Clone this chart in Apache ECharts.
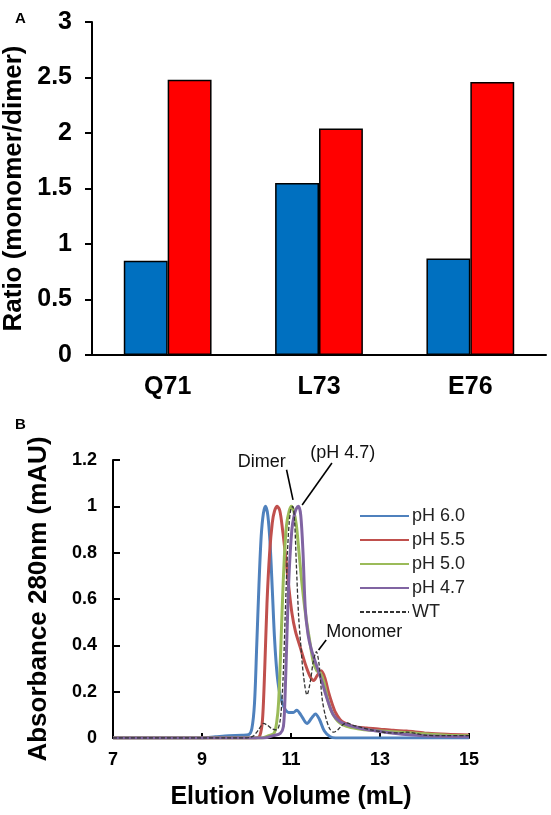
<!DOCTYPE html>
<html>
<head>
<meta charset="utf-8">
<script src="https://cdn.jsdelivr.net/npm/echarts@6/dist/echarts.min.js"></script>
<style>
html,body{margin:0;padding:0;background:#fff;}
#chart{width:551px;height:815px;}
</style>
</head>
<body>
<div id="chart"></div>
<script>
// ---------- Panel A data ----------
var mutants = ['Q71', 'L73', 'E76'];
var blueRatios = [0.85, 1.55, 0.87];
var redRatios = [2.48, 2.04, 2.46];
var ratioTicks = {min: 0, max: 3, interval: 0.5};

// ---------- Panel B data ----------
var ph60X = [7, 9.0, 9.3, 9.6, 9.9, 10.05, 10.12, 10.18, 10.23, 10.28, 10.33, 10.38, 10.43, 10.48, 10.53, 10.58, 10.63, 10.69, 10.76, 10.85, 10.95, 11.05, 11.13, 11.22, 11.36, 11.46, 11.55, 11.64, 11.75, 11.88, 12.0, 13, 14, 15];
var ph60Y = [0, 0, 0.005, 0.01, 0.012, 0.015, 0.04, 0.15, 0.4, 0.66, 0.87, 0.97, 1.0, 0.96, 0.84, 0.64, 0.43, 0.27, 0.18, 0.13, 0.11, 0.11, 0.12, 0.1, 0.063, 0.085, 0.104, 0.08, 0.03, 0.005, 0, 0, 0, 0];

var ph55X = [7, 10.2, 10.3, 10.36, 10.41, 10.46, 10.52, 10.58, 10.63, 10.69, 10.75, 10.81, 10.87, 10.94, 11.02, 11.1, 11.21, 11.32, 11.43, 11.51, 11.59, 11.68, 11.76, 11.84, 11.92, 12.0, 12.1, 12.2, 12.4, 12.7, 13.0, 13.3, 13.6, 14.0, 14.5, 15];
var ph55Y = [0, 0, 0.01, 0.08, 0.3, 0.58, 0.8, 0.93, 0.98, 1.0, 0.98, 0.9, 0.8, 0.67, 0.54, 0.46, 0.39, 0.32, 0.265, 0.248, 0.27, 0.29, 0.26, 0.2, 0.15, 0.11, 0.08, 0.065, 0.05, 0.043, 0.038, 0.033, 0.03, 0.022, 0.016, 0.013];

var ph50X = [7, 10.35, 10.5, 10.62, 10.68, 10.72, 10.76, 10.8, 10.85, 10.9, 10.96, 11.01, 11.06, 11.12, 11.18, 11.25, 11.33, 11.42, 11.5, 11.58, 11.66, 11.74, 11.82, 11.9, 12.0, 12.1, 12.25, 12.5, 12.8, 13.2, 13.6, 14.0, 14.5, 15];
var ph50Y = [0, 0, 0.01, 0.02, 0.07, 0.15, 0.33, 0.55, 0.78, 0.92, 0.98, 1.0, 0.98, 0.92, 0.8, 0.66, 0.53, 0.42, 0.33, 0.29, 0.28, 0.24, 0.17, 0.12, 0.085, 0.065, 0.05, 0.04, 0.033, 0.028, 0.024, 0.018, 0.012, 0.01];

var ph47X = [7, 10.4, 10.6, 10.76, 10.83, 10.87, 10.91, 10.96, 11.02, 11.07, 11.12, 11.17, 11.22, 11.27, 11.32, 11.38, 11.45, 11.57, 11.7, 11.81, 11.95, 12.1, 12.26, 12.6, 13.0, 13.5, 14.0, 15];
var ph47Y = [0, 0, 0.01, 0.02, 0.05, 0.2, 0.45, 0.72, 0.9, 0.96, 0.99, 1.0, 0.96, 0.8, 0.56, 0.45, 0.387, 0.315, 0.24, 0.17, 0.1, 0.07, 0.057, 0.04, 0.028, 0.016, 0.01, 0.005];

var wtX = [7, 10.0, 10.15, 10.25, 10.32, 10.38, 10.47, 10.57, 10.68, 10.76, 10.82, 10.87, 10.92, 10.96, 11.0, 11.04, 11.08, 11.12, 11.17, 11.22, 11.28, 11.36, 11.44, 11.5, 11.57, 11.63, 11.7, 11.78, 11.87, 11.96, 12.05, 12.15, 12.25, 12.4, 12.6, 12.8, 13.0, 13.2, 13.4, 13.6, 13.8, 14.0, 14.5, 15];
var wtY = [0, 0, 0.008, 0.03, 0.05, 0.063, 0.055, 0.04, 0.035, 0.08, 0.25, 0.53, 0.8, 0.93, 0.99, 1.0, 0.94, 0.75, 0.53, 0.4, 0.27, 0.186, 0.25, 0.33, 0.373, 0.32, 0.17, 0.09, 0.04, 0.025, 0.035, 0.055, 0.065, 0.055, 0.045, 0.035, 0.028, 0.022, 0.022, 0.025, 0.02, 0.012, 0.01, 0.01];

var seriesNames = ['pH 6.0', 'pH 5.5', 'pH 5.0', 'pH 4.7', 'WT'];
var absTicks = {min: 0, max: 1.2, interval: 0.2};
var volTicks = {min: 7, max: 15, interval: 2};

// annotation anchors (data coordinates)
var dimerLine = [[10.90, 1.158], [11.045, 1.028]];
var ph47Line = [[11.92, 1.187], [11.25, 1.006]];
var monomerLine = [[11.79, 0.423], [11.62, 0.38]];
var dimerLabelAt = [10.88, 1.192];
var ph47LabelAt = [11.43, 1.19];
var monomerLabelAt = [11.79, 0.458];

function zip(xs, ys) { return xs.map(function (x, i) { return [x, ys[i]]; }); }

var FONT = '"Liberation Sans", Arial, sans-serif';
var chart = echarts.init(document.getElementById('chart'), null, {renderer: 'canvas'});

var lineColors = ['#4F81BD', '#C0504D', '#9BBB59', '#8064A2'];
var lineData = [zip(ph60X, ph60Y), zip(ph55X, ph55Y), zip(ph50X, ph50Y), zip(ph47X, ph47Y)];

var series = [
  {
    type: 'bar', name: 'blue', xAxisIndex: 0, yAxisIndex: 0,
    data: blueRatios, barGap: '0%', barCategoryGap: '42%',
    itemStyle: {color: '#0070C0', borderColor: '#000', borderWidth: 1.5}
  },
  {
    type: 'bar', name: 'red', xAxisIndex: 0, yAxisIndex: 0,
    data: redRatios, barGap: '0%', barCategoryGap: '42%',
    itemStyle: {color: '#FF0000', borderColor: '#000', borderWidth: 1.5}
  }
];
for (var i = 0; i < 4; i++) {
  series.push({
    type: 'line', name: seriesNames[i], xAxisIndex: 1, yAxisIndex: 1,
    data: lineData[i], smooth: 0.3, symbol: 'none', showSymbol: false,
    lineStyle: {color: lineColors[i], width: 3}, itemStyle: {color: lineColors[i]},
    z: 3
  });
}
series.push({
  type: 'line', name: 'WT', xAxisIndex: 1, yAxisIndex: 1,
  data: zip(wtX, wtY), smooth: 0.3, symbol: 'none', showSymbol: false,
  lineStyle: {color: '#333', width: 1.3, type: [4, 2]}, itemStyle: {color: '#333'},
  z: 4,
  markLine: {
    silent: true, symbol: ['none', 'none'], animation: false,
    lineStyle: {color: '#000', width: 1.6, type: 'solid'},
    label: {show: false},
    data: [
      [{coord: dimerLine[0]}, {coord: dimerLine[1]}],
      [{coord: ph47Line[0]}, {coord: ph47Line[1]}],
      [{coord: monomerLine[0]}, {coord: monomerLine[1]}]
    ]
  },
  markPoint: {
    silent: true, symbol: 'circle', symbolSize: 0, animation: false,
    itemStyle: {color: 'rgba(0,0,0,0)'},
    label: {show: true, color: '#111', fontFamily: FONT, fontSize: 18, distance: 0},
    data: [
      {coord: dimerLabelAt, label: {formatter: 'Dimer', position: 'left'}},
      {coord: ph47LabelAt, label: {formatter: '(pH 4.7)', position: 'right', offset: [0, -9]}},
      {coord: monomerLabelAt, label: {formatter: 'Monomer', position: 'right'}}
    ]
  }
});

var option = {
  animation: false,
  backgroundColor: '#fff',
  title: [
    {text: 'A', left: 10, top: 6, textStyle: {fontFamily: FONT, fontSize: 15, fontWeight: 'bold', color: '#000'}},
    {text: 'B', left: 10, top: 412, textStyle: {fontFamily: FONT, fontSize: 15, fontWeight: 'bold', color: '#000'}}
  ],
  legend: {
    data: seriesNames, orient: 'vertical', left: 359, top: 507, padding: 0,
    itemWidth: 49, itemHeight: 14, itemGap: 6,
    itemStyle: {opacity: 0},
    textStyle: {fontFamily: FONT, fontSize: 18, color: '#222', padding: [0, 0, 0, -2]}
  },
  grid: [
    {left: 92, top: 22, right: 5, bottom: 460, outerBoundsMode: 'none', containLabel: false},
    {left: 113, top: 460, right: 82, bottom: 77, outerBoundsMode: 'none', containLabel: false}
  ],
  xAxis: [
    {
      type: 'category', gridIndex: 0, data: mutants,
      axisLine: {lineStyle: {color: '#000', width: 2}},
      axisTick: {show: false},
      axisLabel: {color: '#000', fontFamily: FONT, fontSize: 25, fontWeight: 'bold', margin: 20}
    },
    {
      type: 'value', gridIndex: 1, min: volTicks.min, max: volTicks.max, interval: volTicks.interval,
      name: 'Elution Volume (mL)', nameLocation: 'middle', nameGap: 47,
      nameTextStyle: {color: '#000', fontFamily: FONT, fontSize: 25, fontWeight: 'bold'},
      axisLine: {onZero: false, lineStyle: {color: '#000', width: 2}},
      axisTick: {inside: true, length: 5, lineStyle: {color: '#000', width: 2}},
      splitLine: {show: false},
      axisLabel: {color: '#000', fontFamily: FONT, fontSize: 18, fontWeight: 'bold', margin: 13}
    }
  ],
  yAxis: [
    {
      type: 'value', gridIndex: 0, min: ratioTicks.min, max: ratioTicks.max, interval: ratioTicks.interval,
      name: 'Ratio (monomer/dimer)', nameLocation: 'middle', nameGap: 63, nameRotate: 90,
      nameTextStyle: {color: '#000', fontFamily: FONT, fontSize: 26, fontWeight: 'bold'},
      axisLine: {show: true, lineStyle: {color: '#000', width: 2}},
      axisTick: {show: true, inside: false, length: 7, lineStyle: {color: '#000', width: 2}},
      splitLine: {show: false},
      axisLabel: {color: '#000', fontFamily: FONT, fontSize: 25, fontWeight: 'bold', margin: 20}
    },
    {
      type: 'value', gridIndex: 1, min: absTicks.min, max: absTicks.max, interval: absTicks.interval,
      name: 'Absorbance 280nm (mAU)', nameLocation: 'middle', nameGap: 61, nameRotate: 90,
      nameTextStyle: {color: '#000', fontFamily: FONT, fontSize: 26, fontWeight: 'bold'},
      axisLine: {show: true, lineStyle: {color: '#000', width: 2}},
      axisTick: {show: true, inside: true, length: 7, lineStyle: {color: '#000', width: 2}},
      splitLine: {show: false},
      axisLabel: {color: '#000', fontFamily: FONT, fontSize: 18, fontWeight: 'bold', margin: 16}
    }
  ],
  series: series
};
chart.setOption(option);
</script>
</body>
</html>
